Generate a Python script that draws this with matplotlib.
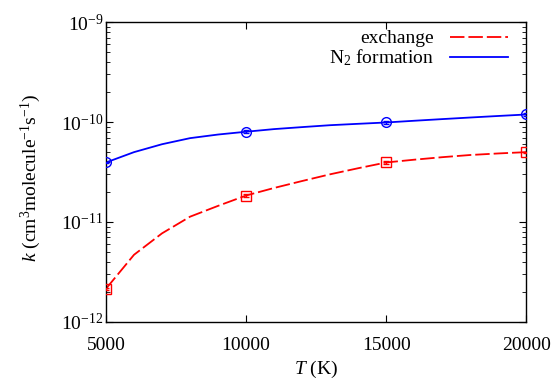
import matplotlib
matplotlib.use('Agg')
from matplotlib import pyplot as plt
from matplotlib.ticker import LogLocator, NullFormatter, FixedLocator

plt.rcParams['font.family'] = ['Liberation Serif', 'DejaVu Serif']
plt.rcParams['mathtext.fontset'] = 'custom'
plt.rcParams['mathtext.rm'] = 'Liberation Serif'
plt.rcParams['mathtext.it'] = 'Liberation Serif:italic'

# fitted curves (sampled every 1000 K)
T_line = [5000, 6000, 7000, 8000, 9000, 10000, 11000, 12000, 13000, 14000,
          15000, 16000, 17000, 18000, 19000, 20000]
k_exchange_line = [2.15e-12, 4.7e-12, 7.7e-12, 1.13e-11, 1.45e-11, 1.84e-11,
                   2.19e-11, 2.57e-11, 3.0e-11, 3.45e-11, 3.94e-11, 4.2e-11,
                   4.45e-11, 4.68e-11, 4.85e-11, 5.0e-11]
k_n2_line = [3.94e-11, 5.0e-11, 6.0e-11, 6.9e-11, 7.5e-11, 8.0e-11, 8.5e-11,
             8.9e-11, 9.3e-11, 9.6e-11, 9.9e-11, 1.03e-10, 1.07e-10, 1.11e-10,
             1.15e-10, 1.19e-10]

# computed points with error bars
T_pts = [5000, 10000, 15000, 20000]
k_exchange_pts = [2.15e-12, 1.84e-11, 3.94e-11, 5.0e-11]
err_exchange = [0.05e-12, 0.08e-11, 0.12e-11, 0.05e-11]
k_n2_pts = [3.94e-11, 8.0e-11, 9.9e-11, 1.19e-10]
err_n2 = [0.05e-11, 0.25e-11, 0.3e-11, 0.05e-10]

fig = plt.figure(figsize=(5.55, 3.81), dpi=100)
ax = fig.add_axes([0.191, 0.155, 0.757, 0.787])

ax.plot(T_line, k_exchange_line, color='red', lw=1.3, dashes=(8, 2.2), label='exchange')
ax.plot(T_line, k_n2_line, color='blue', lw=1.3, label='N$_2$ formation')
ax.errorbar(T_pts, k_exchange_pts, yerr=err_exchange, fmt='s', ms=7, mfc='none',
            mec='red', ecolor='red', capsize=2.5, mew=1.0, elinewidth=1.0, zorder=3)
ax.errorbar(T_pts, k_n2_pts, yerr=err_n2, fmt='o', ms=7, mfc='none',
            mec='blue', ecolor='blue', capsize=2.5, mew=1.0, elinewidth=1.0, zorder=3)

ax.set_yscale('log')
ax.set_xlim(5000, 20000)
ax.set_ylim(1e-12, 1e-9)
ax.xaxis.set_major_locator(FixedLocator([5000, 10000, 15000, 20000]))
ax.yaxis.set_major_locator(LogLocator(base=10, numticks=10))
ax.yaxis.set_minor_locator(LogLocator(base=10, subs=range(2, 10), numticks=10))
ax.yaxis.set_minor_formatter(NullFormatter())
ax.tick_params(which='both', direction='in', top=True, right=True, labelsize=14)
ax.tick_params(which='major', length=5, width=0.8)
ax.tick_params(which='minor', length=3, width=0.6)
ax.tick_params(axis='x', pad=11)
ax.tick_params(axis='y', pad=2)
for s in ax.spines.values():
    s.set_linewidth(1.0)

ax.set_xlabel('$T$ (K)', fontsize=14, labelpad=3)
ax.set_ylabel('$k$ (cm$^3$molecule$^{-1}$s$^{-1}$)', fontsize=14)
ax.yaxis.set_label_coords(-0.15, 0.48)

ax.legend(loc='upper right', frameon=False, markerfirst=False, fontsize=14,
          handlelength=3.0, handletextpad=0.8, labelspacing=0.0,
          borderaxespad=0.0, bbox_to_anchor=(0.975, 1.0))

fig.savefig('out.png', dpi=100)
